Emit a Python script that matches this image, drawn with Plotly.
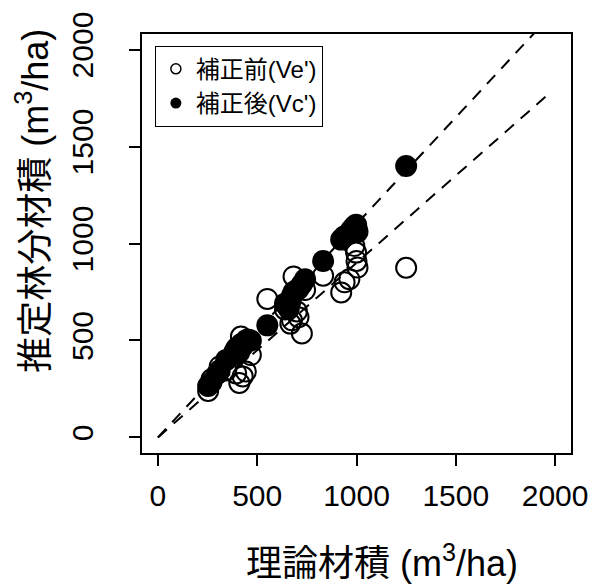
import plotly.graph_objects as go

# Theoretical stand volume (m3/ha) for each plot
theory = [253, 270, 300, 311, 344, 385, 394, 410, 418, 427, 443, 452, 468,
          551, 640, 659, 667, 675, 683, 700, 708, 725, 741, 832,
          923, 940, 964, 973, 989, 998, 1000, 1005, 1250]
# Estimated stand volume before correction (Ve')
before = [240, 300, 330, 366, 345, 440, 330, 281, 520, 315, 340, 505, 425,
          714, 660, 700, 587, 604, 830, 650, 620, 536, 760, 834,
          748, 800, 816, 1060, 987, 953, 910, 876, 875]
# Estimated stand volume after correction (Vc')
after = [265, 285, 330, 345, 400, 425, 459, 440, 480, 470, 500, 502, 500,
         578, 690, 663, 700, 731, 750, 760, 765, 790, 816, 910,
         1020, 1038, 1050, 1070, 1089, 1097, 1080, 1060, 1400]

# Fitted proportional lines through the origin
fit_x = [0, 1975]
slope_after = 1.10
slope_before = 0.90

tick_vals = [0, 500, 1000, 1500, 2000]
tick_text = ["0", "500", "1000", "1500", "2000"]

series_names = ["補正前(Ve')", "補正後(Vc')"]

latin = "Liberation Sans, Arial, Noto Sans CJK JP, sans-serif"

fig = go.Figure()

open_marker = dict(symbol="circle-open", size=20, color="black",
                   line=dict(width=2, color="black"))
solid_marker = dict(symbol="circle", size=22, color="black", line=dict(width=0))

fig.add_trace(go.Scatter(x=theory, y=before, mode="markers", name=series_names[0],
                         marker=open_marker, showlegend=False))
fig.add_trace(go.Scatter(x=theory, y=after, mode="markers", name=series_names[1],
                         marker=solid_marker, showlegend=False))
for s in (slope_after, slope_before):
    fig.add_trace(go.Scatter(
        x=fit_x, y=[v * s for v in fit_x], mode="lines", showlegend=False,
        line=dict(color="black", width=2, dash="12px,9px"),
        hoverinfo="skip",
    ))

# Legend keys drawn with small symbols
fig.add_trace(go.Scatter(x=[None], y=[None], mode="markers", name=series_names[0],
                         marker=dict(symbol="circle-open", size=10, color="black",
                                     line=dict(width=1.5, color="black"))))
fig.add_trace(go.Scatter(x=[None], y=[None], mode="markers", name=series_names[1],
                         marker=dict(symbol="circle", size=11, color="black",
                                     line=dict(width=0))))

axis_common = dict(
    range=[-80, 2080], tickvals=tick_vals, ticktext=tick_text,
    showgrid=False, zeroline=False, showline=True, linecolor="black",
    linewidth=2, mirror=True, ticks="outside", ticklen=11, tickwidth=2,
    tickcolor="black", tickfont=dict(family=latin, size=30, color="black"),
)

fig.update_layout(
    width=600, height=585,
    margin=dict(l=142, r=22, t=29, b=132),
    paper_bgcolor="white", plot_bgcolor="white",
    xaxis=dict(**axis_common, ticklabelstandoff=4),
    yaxis=dict(**axis_common, tickangle=-90, ticklabelstandoff=24),
    showlegend=True,
    legend=dict(
        x=0.03, y=0.972, xanchor="left", yanchor="top",
        bgcolor="white", bordercolor="black", borderwidth=1,
        font=dict(family=latin, size=24, color="black"),
        itemsizing="trace",
    ),
    annotations=[
        dict(text="理論材積 (m<sup>3</sup>/ha)", xref="paper", yref="paper",
             x=0.56, y=-0.257, xanchor="center", yanchor="middle",
             showarrow=False, font=dict(family=latin, size=36, color="black")),
        dict(text="推定林分材積 (m<sup>3</sup>/ha)", xref="paper", yref="paper",
             x=-0.255, y=0.601, xanchor="center", yanchor="middle", textangle=-90,
             showarrow=False, font=dict(family=latin, size=36, color="black")),
    ],
)

fig.write_html("out.html")
